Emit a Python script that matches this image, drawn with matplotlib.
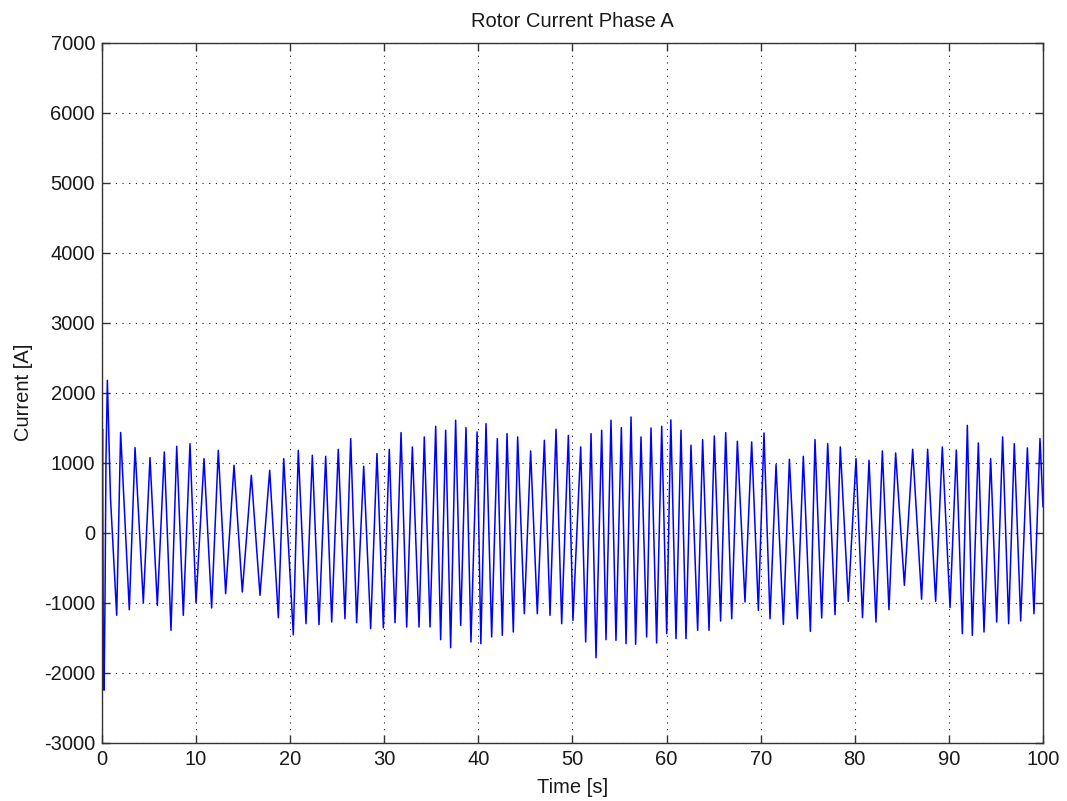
import matplotlib
matplotlib.use("Agg")
import matplotlib.pyplot as plt

# Rotor phase-A current: turning points (time in s, current in A)
time_s = [
    0.00, 0.05, 0.14, 0.22, 0.32, 0.42, 0.57, 0.90, 1.56,
    1.98, 2.90, 3.51, 4.39, 5.10, 5.88, 6.62, 7.33, 7.94, 8.64,
    9.35, 9.99, 10.84, 11.65, 12.36, 13.14, 14.03, 14.91, 15.87, 16.79,
    17.82, 18.74, 19.31, 20.33, 20.86, 21.68, 22.35, 23.06, 23.77, 24.41,
    25.11, 25.82, 26.43, 27.06, 27.81, 28.55, 29.22, 29.90, 30.53, 31.14,
    31.78, 32.38, 32.98, 33.69, 34.25, 34.86, 35.46, 35.99, 36.52, 37.05,
    37.58, 38.12, 38.68, 39.21, 39.86, 40.26, 40.81, 41.41, 42.01, 42.54,
    43.04, 43.71, 44.17, 44.88, 45.55, 46.26, 47.01, 47.61, 48.25, 48.85,
    49.56, 50.05, 50.87, 51.40, 51.97, 52.50, 53.10, 53.56, 54.09, 54.62,
    55.19, 55.69, 56.22, 56.71, 57.28, 57.88, 58.34, 58.94, 59.48, 60.01,
    60.45, 61.00, 61.53, 62.06, 62.59, 63.30, 63.83, 64.51, 65.07, 65.74,
    66.28, 66.92, 67.52, 68.33, 69.04, 69.75, 70.35, 70.99, 71.63, 72.41,
    73.05, 73.89, 74.53, 75.28, 75.77, 76.48, 77.12, 77.90, 78.46, 79.31,
    80.13, 80.82, 81.51, 82.25, 82.93, 83.63, 84.34, 85.27, 86.15, 87.10,
    87.74, 88.59, 89.30, 90.12, 90.79, 91.43, 91.96, 92.49, 93.13, 93.73,
    94.44, 95.08, 95.71, 96.35, 96.95, 97.63, 98.34, 99.04, 99.68, 100.0,
]
current_a = [
    0, 1480, -1820, -2250, -950, 1030, 2176, 500, -1180,
    1430, -1100, 1214, -1000, 1071, -1038, 1152, -1395, 1233, -1181,
    1271, -1000, 1057, -1076, 1176, -871, 962, -848, 819, -895,
    890, -1214, 1057, -1460, 1176, -1300, 1105, -1314, 1090, -1276,
    1190, -1229, 1343, -1286, 948, -1371, 1129, -1360, 1190, -1286,
    1429, -1348, 1224, -1348, 1367, -1348, 1519, -1529, 1462, -1643,
    1605, -1324, 1500, -1562, 1438, -1586, 1557, -1490, 1343, -1467,
    1414, -1419, 1367, -1157, 1167, -1157, 1319, -1181, 1476, -1300,
    1390, -1252, 1224, -1562, 1414, -1786, 1462, -1529, 1605, -1538,
    1500, -1586, 1652, -1595, 1367, -1490, 1495, -1576, 1519, -1443,
    1610, -1514, 1462, -1514, 1248, -1395, 1329, -1395, 1381, -1262,
    1429, -1229, 1305, -990, 1295, -1110, 1424, -1229, 971, -1310,
    1048, -1229, 1090, -1410, 1329, -1219, 1271, -1171, 1224, -981,
    1057, -1214, 1033, -1276, 1167, -1100, 1138, -752, 1190, -952,
    1190, -981, 1224, -1071, 1180, -1443, 1533, -1467, 1281, -1419,
    1057, -1276, 1367, -1300, 1271, -1262, 1210, -1157, 1343, 370,
]

x_ticks = list(range(0, 101, 10))
y_ticks = list(range(-3000, 7001, 1000))

plt.rcParams["font.family"] = ["Liberation Sans", "DejaVu Sans"]

fig = plt.figure(figsize=(10.67, 8.01), dpi=100)
ax = fig.add_axes([0.0956, 0.0728, 0.8819, 0.8741])

ax.plot(time_s, current_a, color=(0, 0, 1), linewidth=1.1)

ax.set_xlim(0, 100)
ax.set_ylim(-3000, 7000)
ax.set_xticks(x_ticks)
ax.set_yticks(y_ticks)
ax.set_xticklabels([str(v) for v in x_ticks])
ax.set_yticklabels([str(v) for v in y_ticks])

ax.grid(True, color="0.1", linestyle=(0, (1, 5)), linewidth=0.8)
ax.tick_params(direction="in", length=6, width=1.0, color="0.2",
               top=True, right=True, labelsize=14.5, labelcolor="0.1", pad=5)
for sp in ax.spines.values():
    sp.set_color("0.2")
    sp.set_linewidth(1.0)

ax.set_title("Rotor Current Phase A", fontsize=14.5, color="0.1", pad=11)
ax.set_xlabel("Time [s]", fontsize=14.5, color="0.1", labelpad=7)
ax.set_ylabel("Current [A]", fontsize=14.5, color="0.1", labelpad=8)

fig.savefig("out.png", dpi=100, facecolor="white")
